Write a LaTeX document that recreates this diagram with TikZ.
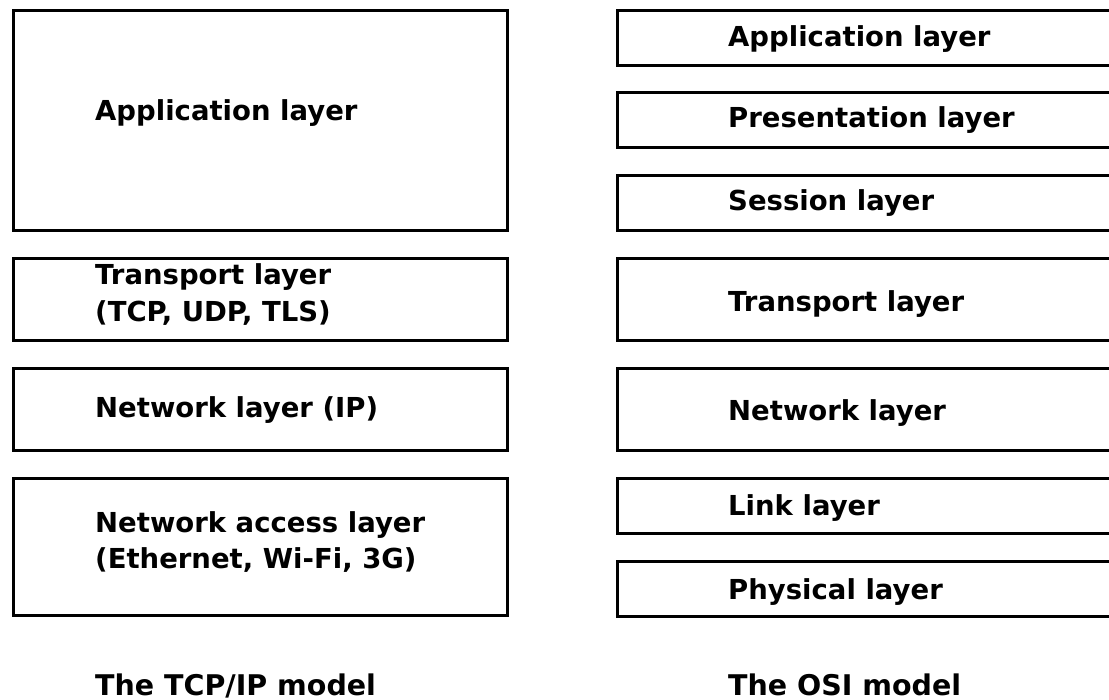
\documentclass[tikz,border=0pt]{standalone}
\usepackage{fontspec}
\setmainfont{DejaVu Sans}
\begin{document}
\begin{tikzpicture}[x=1pt,y=-1pt,
  layerbox/.style={draw=black,line width=3pt,rectangle,inner sep=0pt,anchor=north west},
  lbl/.style={anchor=base west,inner sep=0pt,font=\fontsize{27.5}{33}\selectfont\bfseries,align=left},
  caption/.style={anchor=base west,inner sep=0pt,font=\fontsize{28.5}{34}\selectfont\bfseries}]
\useasboundingbox (0,0) rectangle (1109,700);
\clip (0,0) rectangle (1109,700);
% TCP/IP model (left column)
\node[layerbox,minimum width=494pt,minimum height=219.5pt] (tapp) at (12,9.5) {};
\node[layerbox,minimum width=494pt,minimum height=82pt] (ttrn) at (12,257) {};
\node[layerbox,minimum width=494pt,minimum height=82pt] (tnet) at (12,367) {};
\node[layerbox,minimum width=494pt,minimum height=137pt] (tacc) at (12,477) {};
\node[lbl] (tappL) at (95,121) {Application layer};
\node[lbl] (ttrnL1) at (95,285) {Transport layer};
\node[lbl] (ttrnL2) at (95,322) {(TCP, UDP, TLS)};
\node[lbl] (tnetL) at (95,418) {Network layer (IP)};
\node[lbl] (taccL1) at (95,532) {Network access layer};
\node[lbl] (taccL2) at (95,568) {(Ethernet, Wi-Fi, 3G)};
% OSI model (right column, running past the right edge)
\node[layerbox,minimum width=500pt,minimum height=55pt] (oapp) at (616,9.5) {};
\node[layerbox,minimum width=500pt,minimum height=55pt] (opre) at (616,91.5) {};
\node[layerbox,minimum width=500pt,minimum height=55pt] (oses) at (616,174) {};
\node[layerbox,minimum width=500pt,minimum height=82pt] (otrn) at (616,257) {};
\node[layerbox,minimum width=500pt,minimum height=82pt] (onet) at (616,367) {};
\node[layerbox,minimum width=500pt,minimum height=55pt] (olnk) at (616,477) {};
\node[layerbox,minimum width=500pt,minimum height=55pt] (ophy) at (616,559.5) {};
\node[lbl] (oappL) at (728,47) {Application layer};
\node[lbl] (opreL) at (728,128) {Presentation layer};
\node[lbl] (osesL) at (728,211) {Session layer};
\node[lbl] (otrnL) at (728,312) {Transport layer};
\node[lbl] (onetL) at (728,421) {Network layer};
\node[lbl] (olnkL) at (728,515) {Link layer};
\node[lbl] (ophyL) at (728,599) {Physical layer};
% captions
\node[caption] (tcap) at (95,695) {The TCP/IP model};
\node[caption] (ocap) at (728,695) {The OSI model};
\end{tikzpicture}
\end{document}
